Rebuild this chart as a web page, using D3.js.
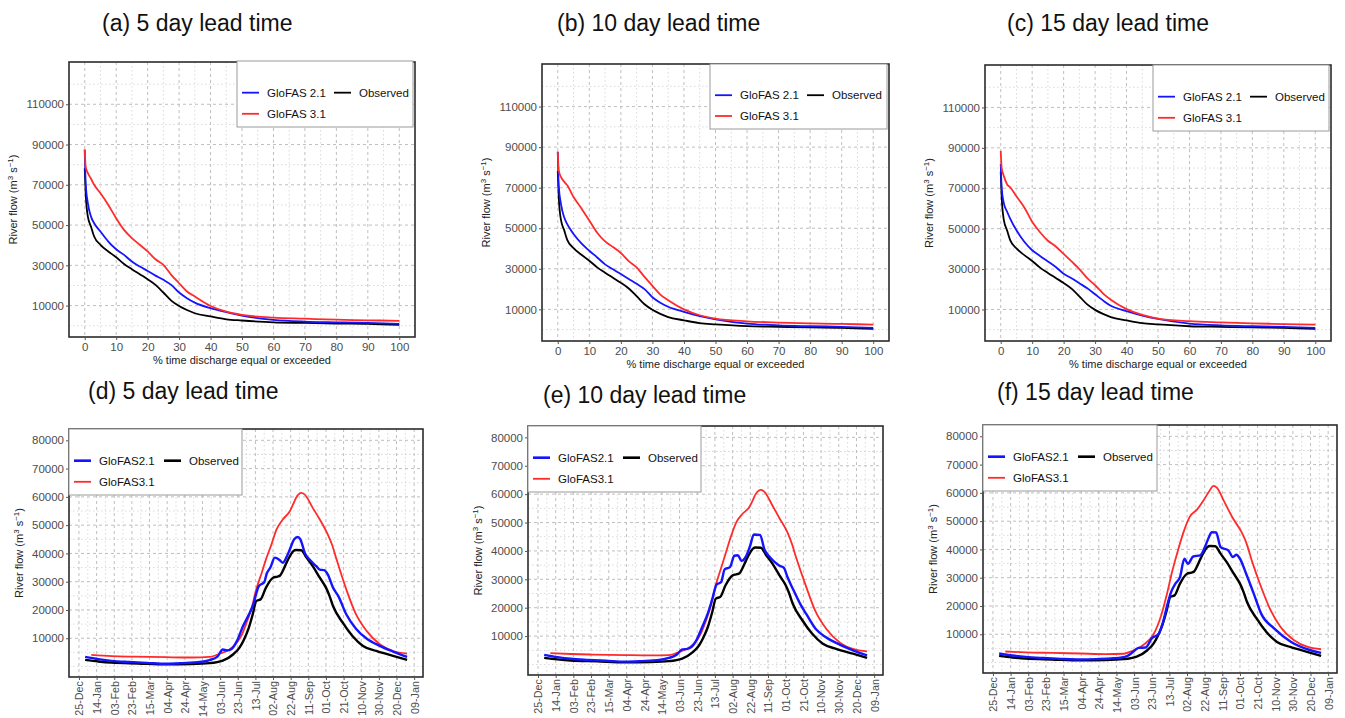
<!DOCTYPE html>
<html>
<head>
<meta charset="utf-8" />
<script src="https://cdn.jsdelivr.net/npm/d3@7"></script>
<style>
html, body { margin: 0; padding: 0; background: #fff; }
svg { font-family: "Liberation Sans", Arial, sans-serif; }
.grid-major { stroke: #bfbfbf; stroke-width: 1; stroke-dasharray: 3,3; }
.grid-minor { stroke: #dadada; stroke-width: 1; stroke-dasharray: 1.5,2.5; }
.axis path { display: none; }
.axis line { stroke: #555; }
.axis text { fill: #4d4d4d; font-size: 11.5px; font-family: "Liberation Sans", Arial, sans-serif; }
.axis.dates text { font-size: 10.8px; }
.frame { fill: none; stroke: #2b2b2b; stroke-width: 1.6; }
.legend-box { fill: #fff; stroke: #9a9a9a; stroke-width: 1; }
.legend-text { font-size: 11.5px; fill: #111; }
.title { font-size: 23px; fill: #111; }
.ylab, .xlab { font-size: 11px; fill: #222; }
</style>
</head>
<body>
<svg id="chart" width="1345" height="718"></svg>
<script>
// ---- flow duration curves (a)-(c) ----
var fdcPct = [0, 0.3, 1, 2, 3, 5, 7.5, 10, 12.5, 15, 17.5, 20, 22.5, 25, 27.5, 30, 32.5, 35, 40, 45, 50, 60, 70, 80, 90, 100];
var fdcObserved = [78200, 65800, 54200, 49200, 44300, 40200, 36900, 34000, 30700, 28100, 25600, 23100, 20300, 16500, 12500, 9800, 7800, 6200, 4600, 3200, 2600, 1700, 1400, 1100, 900, 400];
var fdcG21Lead5 = [87500, 70800, 60800, 54200, 50900, 46800, 41800, 38000, 35200, 31900, 29400, 27200, 24900, 22800, 20300, 16500, 13700, 11500, 8700, 6700, 5000, 2900, 2050, 1700, 1400, 900];
var fdcG31Lead5 = [87300, 79000, 75800, 73000, 70000, 65800, 60000, 53400, 47600, 43500, 40200, 36900, 33000, 30200, 25300, 21100, 17000, 14500, 9800, 7000, 5400, 4000, 3500, 3000, 2700, 2400];
var fdcG21Lead10 = [87700, 71000, 62000, 55500, 52000, 47200, 42500, 38900, 35600, 32200, 29800, 27400, 25000, 22600, 20000, 16000, 13300, 11300, 8800, 6700, 5100, 3000, 2100, 1700, 1400, 900];
var fdcG31Lead10 = [87700, 78500, 75300, 73000, 71200, 65400, 59800, 53800, 47800, 43500, 40800, 37800, 33800, 30700, 26000, 21600, 17300, 14500, 10000, 7100, 5400, 4100, 3500, 3100, 2800, 2500];
var fdcG21Lead15 = [82000, 70000, 62500, 58500, 55000, 49200, 43500, 39300, 36500, 33800, 31000, 27700, 25500, 23000, 20500, 17500, 14500, 11800, 9200, 7000, 5300, 3000, 2100, 1700, 1400, 900];
var fdcG31Lead15 = [88500, 80000, 76000, 72000, 70500, 66000, 60500, 53400, 48200, 44000, 41200, 37500, 33800, 30000, 25500, 22000, 18000, 14800, 10200, 7300, 5500, 4200, 3600, 3100, 2800, 2500];
var fdcXTicks = [0, 10, 20, 30, 40, 50, 60, 70, 80, 90, 100];
var fdcYTicks = [10000, 30000, 50000, 70000, 90000, 110000];

// ---- daily climatology (d)-(f): [day of year, flow] ----
var climObserved = [[0,2350],[15,1800],[30,1400],[60,1100],[92,800],[120,900],[141,1200],[156,2100],[168,4350],[175,6700],[180,9500],[185,13200],[190,18500],[194,23200],[199,23800],[205,27900],[213,31400],[218,31800],[221,32200],[224,33800],[228,36500],[232,39000],[236,40800],[239,41200],[245,41100],[251,38500],[258,35500],[266,31400],[273,27900],[277,25000],[281,21400],[292,15500],[303,10800],[315,7300],[330,5500],[349,3800],[365,2350]];
var climG21Lead5 = [[0,3400],[15,2600],[30,2000],[50,1600],[70,1300],[92,1000],[110,1200],[130,1600],[141,2300],[150,3500],[156,6000],[161,5700],[166,6200],[172,9000],[179,14300],[185,18000],[190,21400],[197,28500],[203,29800],[206,33000],[210,35000],[215,38500],[220,37800],[224,36700],[228,38500],[232,41400],[237,45000],[241,45800],[244,45000],[249,40200],[256,37300],[262,35500],[266,34300],[271,34100],[275,32600],[281,27900],[287,24900],[296,18500],[307,13400],[319,9900],[334,7300],[349,5300],[365,3400]];
var climG31Lead5 = [[7,4100],[30,3700],[55,3500],[92,3300],[120,3200],[141,3400],[153,4600],[164,6100],[172,8500],[178,11500],[183,15500],[189,21000],[194,27300],[200,33000],[205,37900],[211,43000],[217,48500],[224,52000],[232,54900],[236,57500],[239,59600],[245,61400],[249,60800],[258,56100],[266,52000],[275,46700],[280,43000],[285,37900],[296,27300],[307,18500],[319,12600],[334,7900],[349,5500],[365,4600]];
var climG21Lead10 = [[0,3400],[15,2600],[30,2000],[50,1600],[70,1300],[92,1000],[110,1200],[130,1600],[141,2300],[150,3500],[156,5300],[162,5500],[167,6300],[172,8500],[179,13500],[185,18000],[190,23000],[195,28200],[200,29000],[204,33500],[210,34300],[215,38300],[219,38500],[223,36500],[228,38000],[233,42000],[237,45800],[244,45600],[249,40500],[254,38200],[260,36200],[266,34800],[271,34000],[275,30800],[281,26700],[290,21000],[296,17900],[307,12500],[319,9500],[334,7000],[349,5000],[365,3200]];
var climG31Lead10 = [[7,4000],[30,3700],[55,3500],[92,3300],[120,3200],[141,3300],[153,4500],[164,6000],[172,8300],[178,11500],[183,15500],[189,21500],[194,28000],[200,34000],[205,39000],[211,45000],[217,50000],[224,53000],[232,55500],[236,58000],[239,60000],[245,61500],[249,60800],[258,56000],[266,51500],[275,46500],[280,42500],[285,37500],[296,27500],[307,18500],[319,12500],[334,7800],[349,5500],[365,4600]];
var climG21Lead15 = [[0,3200],[15,2500],[30,2000],[50,1600],[70,1300],[92,1100],[110,1200],[130,1500],[145,2300],[152,3800],[158,5200],[166,5300],[173,8500],[181,10200],[186,14500],[190,19600],[195,25000],[200,28000],[205,30200],[210,36700],[214,34900],[220,37500],[228,37900],[234,41400],[238,44500],[241,46100],[246,46000],[251,40800],[260,39600],[265,37300],[269,38100],[273,36700],[280,31400],[288,24900],[297,17300],[312,12000],[331,7300],[353,4350],[365,3400]];
var climG31Lead15 = [[7,3900],[30,3600],[60,3400],[92,3200],[120,3000],[141,3100],[150,4000],[160,5500],[170,8000],[175,10000],[183,16000],[190,24000],[196,32000],[203,40000],[210,47000],[216,51500],[224,54000],[232,57500],[238,60500],[243,62500],[247,61800],[255,57000],[265,51000],[275,46000],[280,42500],[287,35500],[296,27500],[307,19000],[319,12600],[334,8000],[349,5600],[365,4700]];
var climTickLabels = ['25-Dec', '14-Jan', '03-Feb', '23-Feb', '15-Mar', '04-Apr', '24-Apr', '14-May', '03-Jun', '23-Jun', '13-Jul', '02-Aug', '22-Aug', '11-Sep', '01-Oct', '21-Oct', '10-Nov', '30-Nov', '20-Dec', '09-Jan'];
var climYTicks = [10000, 20000, 30000, 40000, 50000, 60000, 70000, 80000];
var climTickStep = 20;      // days between date ticks
var climFirstTickDay = -7;  // 25-Dec relative to 1 Jan

var svg = d3.select('#chart');
var colObs = '#000000', colG21 = '#1414ff', colG31 = '#ff2b2b';

var fdcPanels = [
	{ title: '(a) 5 day lead time', tx: 102, ty: 31, box: [69, 62, 415, 337], legend: [237, 61, 413, 127], g21: fdcG21Lead5, g31: fdcG31Lead5 },
	{ title: '(b) 10 day lead time', tx: 557, ty: 31, box: [542, 64, 889, 341], legend: [710, 64, 887, 129], g21: fdcG21Lead10, g31: fdcG31Lead10 },
	{ title: '(c) 15 day lead time', tx: 1007, ty: 31, box: [985, 65, 1331, 341], legend: [1153, 65, 1329, 131], g21: fdcG21Lead15, g31: fdcG31Lead15 }
];
var climPanels = [
	{ title: '(d) 5 day lead time', tx: 88, ty: 399, box: [69, 429, 423, 677], legend: [69, 429, 242, 495], g21: climG21Lead5, g31: climG31Lead5 },
	{ title: '(e) 10 day lead time', tx: 543, ty: 403, box: [528, 426, 883, 675], legend: [528, 426, 701, 492], g21: climG21Lead10, g31: climG31Lead10 },
	{ title: '(f) 15 day lead time', tx: 997, ty: 400, box: [983, 425, 1337, 673], legend: [983, 425, 1157, 491], g21: climG21Lead15, g31: climG31Lead15 }
];

var clipId = 0;

function yLabel(g, xPos, yPos) {
	var t = g.append('text').attr('class', 'ylab')
		.attr('transform', 'translate(' + xPos + ',' + yPos + ') rotate(-90)')
		.attr('text-anchor', 'middle');
	t.append('tspan').text('River flow (m');
	t.append('tspan').attr('dy', -4).style('font-size', '8px').text('3');
	t.append('tspan').attr('dy', 4).text(' s');
	t.append('tspan').attr('dy', -4).style('font-size', '8px').text('\u22121');
	t.append('tspan').attr('dy', 4).text(')');
}

function legend(g, p, labels, widths, col2) {
	var l = p.legend, h = l[3] - l[1];
	g.append('rect').attr('class', 'legend-box')
		.attr('x', l[0]).attr('y', l[1]).attr('width', l[2] - l[0]).attr('height', h);
	var items = [
		{ label: labels[0], color: colG21, w: widths[0], cx: l[0] + 5, cy: l[1] + 0.48 * h },
		{ label: labels[1], color: colObs, w: widths[1], cx: l[0] + col2, cy: l[1] + 0.48 * h },
		{ label: labels[2], color: colG31, w: widths[2], cx: l[0] + 5, cy: l[1] + 0.8 * h }
	];
	var it = g.selectAll('.leg-item').data(items).join('g');
	it.append('line')
		.attr('x1', function(d) { return d.cx; }).attr('x2', function(d) { return d.cx + 17; })
		.attr('y1', function(d) { return d.cy; }).attr('y2', function(d) { return d.cy; })
		.attr('stroke', function(d) { return d.color; })
		.attr('stroke-width', function(d) { return d.w; });
	it.append('text').attr('class', 'legend-text')
		.attr('x', function(d) { return d.cx + 25; })
		.attr('y', function(d) { return d.cy; })
		.attr('dy', '0.36em')
		.text(function(d) { return d.label; });
}

function frameAndClip(g, b) {
	var id = 'clip' + (clipId++);
	g.append('clipPath').attr('id', id).append('rect')
		.attr('x', b[0]).attr('y', b[1]).attr('width', b[2] - b[0]).attr('height', b[3] - b[1]);
	return id;
}

function gridLines(g, b, x, y, xMajor, xMinor, yMajor, yMinor) {
	var grid = g.append('g');
	grid.selectAll('.vmin').data(xMinor).join('line').attr('class', 'grid-minor')
		.attr('x1', x).attr('x2', x).attr('y1', b[1]).attr('y2', b[3]);
	grid.selectAll('.hmin').data(yMinor).join('line').attr('class', 'grid-minor')
		.attr('x1', b[0]).attr('x2', b[2]).attr('y1', y).attr('y2', y);
	grid.selectAll('.vmaj').data(xMajor).join('line').attr('class', 'grid-major')
		.attr('x1', x).attr('x2', x).attr('y1', b[1]).attr('y2', b[3]);
	grid.selectAll('.hmaj').data(yMajor).join('line').attr('class', 'grid-major')
		.attr('x1', b[0]).attr('x2', b[2]).attr('y1', y).attr('y2', y);
}

// ---- top row: flow duration curves ----
fdcPanels.forEach(function(p) {
	var b = p.box;
	var g = svg.append('g');
	var x = d3.scaleLinear().domain([-5, 105]).range([b[0], b[2]]);
	var y = d3.scaleLinear().domain([-5600, 131000]).range([b[3], b[1]]);
	var id = frameAndClip(g, b);

	gridLines(g, b, x, y, fdcXTicks, d3.range(5, 100, 10), fdcYTicks, d3.range(0, 130000, 20000));

	var line = d3.line().curve(d3.curveMonotoneX)
		.x(function(d) { return x(d[0]); })
		.y(function(d) { return y(d[1]); });
	var series = [
		{ v: fdcObserved, c: colObs },
		{ v: p.g21, c: colG21 },
		{ v: p.g31, c: colG31 }
	];
	g.append('g').attr('clip-path', 'url(#' + id + ')')
		.selectAll('path').data(series).join('path')
		.attr('fill', 'none')
		.attr('stroke', function(d) { return d.c; })
		.attr('stroke-width', 1.8)
		.attr('d', function(d) { return line(d3.zip(fdcPct, d.v)); });

	g.append('rect').attr('class', 'frame')
		.attr('x', b[0]).attr('y', b[1]).attr('width', b[2] - b[0]).attr('height', b[3] - b[1]);

	g.append('g').attr('class', 'axis').attr('transform', 'translate(0,' + b[3] + ')')
		.call(d3.axisBottom(x).tickValues(fdcXTicks).tickSize(3).tickPadding(3));
	g.append('g').attr('class', 'axis').attr('transform', 'translate(' + b[0] + ',0)')
		.call(d3.axisLeft(y).tickValues(fdcYTicks).tickSize(3).tickPadding(2).tickFormat(d3.format('d')));

	legend(g, p, ['GloFAS 2.1', 'Observed', 'GloFAS 3.1'], [1.8, 1.8, 1.8], 97);

	yLabel(g, b[0] - 52, (b[1] + b[3]) / 2);
	g.append('text').attr('class', 'xlab').attr('text-anchor', 'middle')
		.attr('x', (b[0] + b[2]) / 2).attr('y', b[3] + 27)
		.text('% time discharge equal or exceeded');
	g.append('text').attr('class', 'title').attr('x', p.tx).attr('y', p.ty).text(p.title);
});

// ---- bottom row: daily climatology ----
var climTickPos = climTickLabels.map(function(d, i) { return i * climTickStep; });
var climMinorPos = climTickPos.slice(0, -1).map(function(d) { return d + climTickStep / 2; });

climPanels.forEach(function(p) {
	var b = p.box;
	var g = svg.append('g');
	var x = d3.scaleLinear().domain([-11.3, 390]).range([b[0], b[2]]);
	var y = d3.scaleLinear().domain([-3700, 84000]).range([b[3], b[1]]);
	var id = frameAndClip(g, b);

	gridLines(g, b, x, y, climTickPos, climMinorPos, climYTicks, d3.range(0, 85000, 10000).map(function(v) { return v === 0 ? 0 : v - 5000; }).concat([75000]));

	var line = d3.line().curve(d3.curveMonotoneX)
		.x(function(d) { return x(d[0] - climFirstTickDay); })
		.y(function(d) { return y(d[1]); });
	var series = [
		{ v: p.g31, c: colG31, w: 1.8 },
		{ v: climObserved, c: colObs, w: 2.4 },
		{ v: p.g21, c: colG21, w: 2.4 }
	];
	g.append('g').attr('clip-path', 'url(#' + id + ')')
		.selectAll('path').data(series).join('path')
		.attr('fill', 'none')
		.attr('stroke', function(d) { return d.c; })
		.attr('stroke-width', function(d) { return d.w; })
		.attr('stroke-linejoin', 'round')
		.attr('d', function(d) { return line(d.v); });

	g.append('rect').attr('class', 'frame')
		.attr('x', b[0]).attr('y', b[1]).attr('width', b[2] - b[0]).attr('height', b[3] - b[1]);

	var xa = g.append('g').attr('class', 'axis dates').attr('transform', 'translate(0,' + b[3] + ')')
		.call(d3.axisBottom(x).tickValues(climTickPos).tickSize(3).tickPadding(3)
			.tickFormat(function(d, i) { return climTickLabels[i]; }));
	xa.selectAll('text')
		.attr('text-anchor', 'end')
		.attr('transform', 'rotate(-90)')
		.attr('x', -4).attr('y', 0).attr('dy', '0.36em');
	g.append('g').attr('class', 'axis').attr('transform', 'translate(' + b[0] + ',0)')
		.call(d3.axisLeft(y).tickValues(climYTicks).tickSize(3).tickPadding(2).tickFormat(d3.format('d')));

	// legend sits over the plot's top-left corner
	legend(g, p, ['GloFAS2.1', 'Observed', 'GloFAS3.1'], [2.6, 2.6, 1.8], 95);

	yLabel(g, b[0] - 46, (b[1] + b[3]) / 2);
	g.append('text').attr('class', 'title').attr('x', p.tx).attr('y', p.ty).text(p.title);
});
</script>
</body>
</html>
